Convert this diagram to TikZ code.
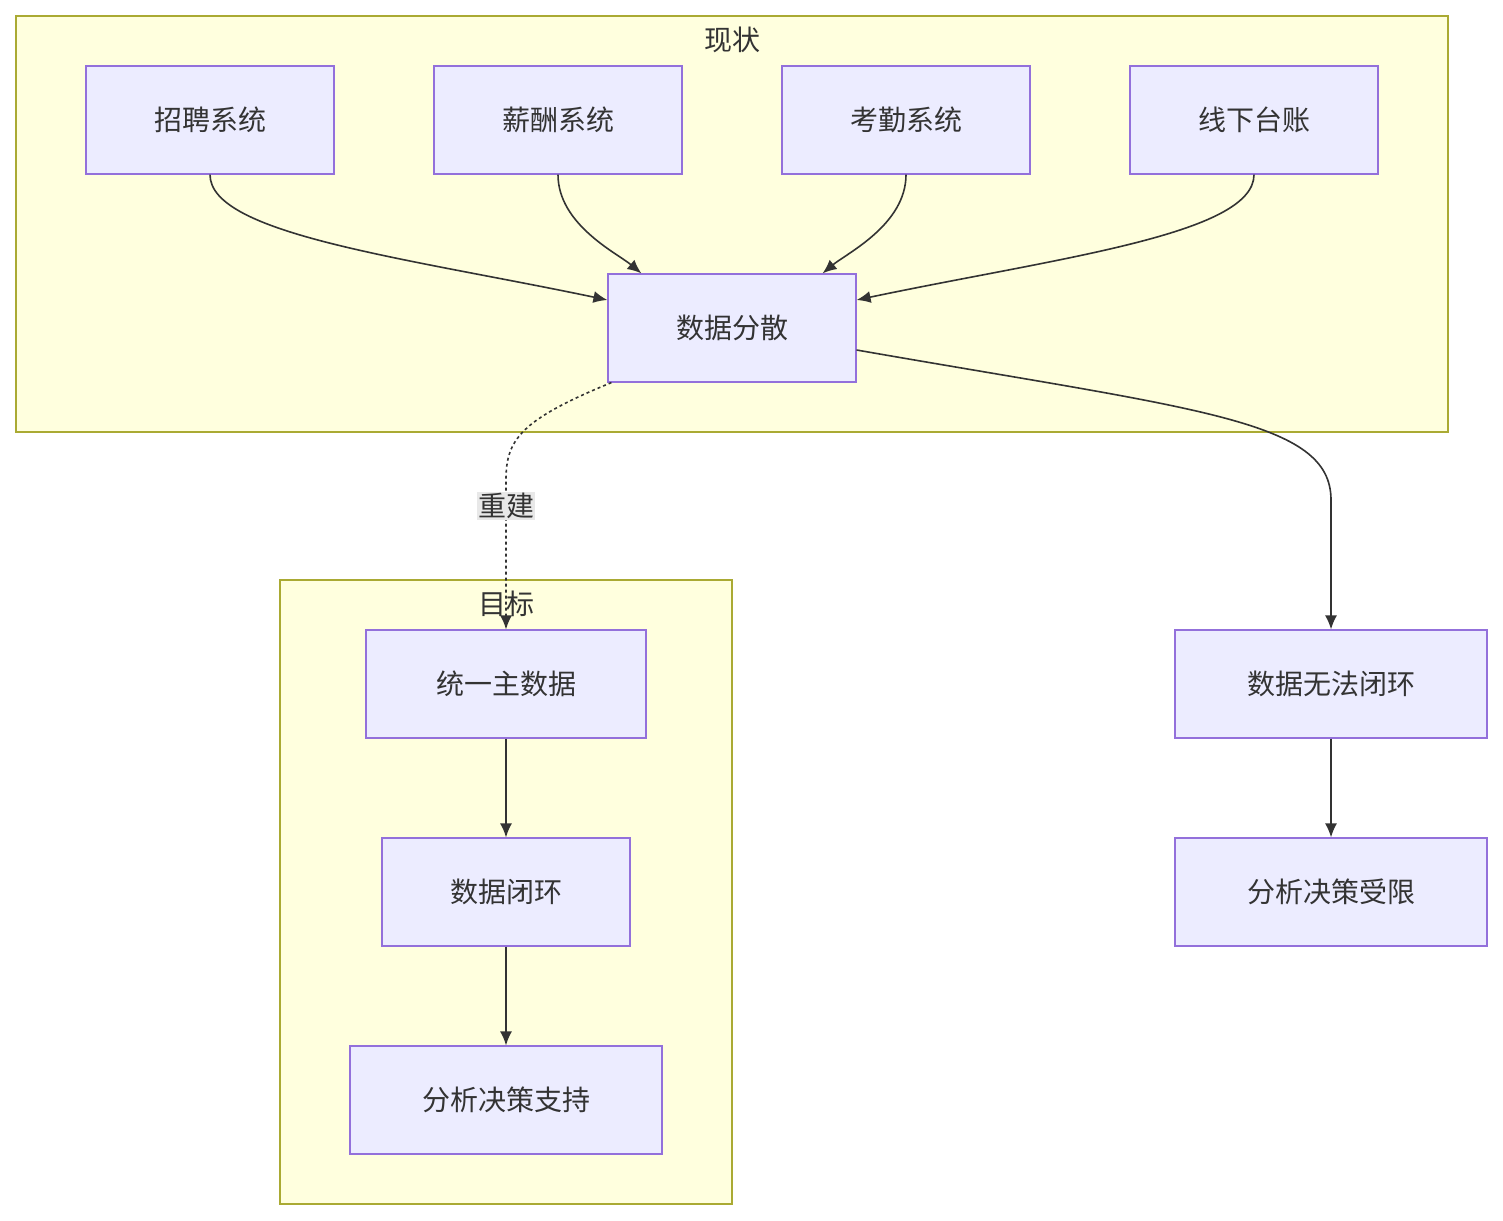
\documentclass[tikz,border=0pt]{standalone}
\usepackage{fontspec}
\setmainfont{Noto Sans CJK SC}
\usetikzlibrary{calc,arrows.meta}
\definecolor{nodefill}{HTML}{ECECFF}
\definecolor{nodeline}{HTML}{9370DB}
\definecolor{clusterfill}{HTML}{FFFFDE}
\definecolor{clusterline}{HTML}{AAAA33}
\definecolor{edgecol}{HTML}{333333}
\definecolor{labelbg}{HTML}{E8E8E8}
\tikzset{
  box/.style={draw=nodeline, fill=nodefill, line width=1.2pt, minimum height=108pt,
    inner sep=0pt, font=\fontsize{28}{32}\selectfont, text=edgecol},
  cluster/.style={draw=clusterline, fill=clusterfill, line width=1.2pt},
  title/.style={font=\fontsize{28}{32}\selectfont, text=edgecol},
  flow/.style={draw=edgecol, line width=1.6pt, -{Latex[length=14pt,width=12pt]}},
}
\begin{document}
\begin{tikzpicture}[x=1pt,y=-1pt]
  \useasboundingbox (0,0) rectangle (1503,1220);
  % clusters
  \draw[cluster] (16,16) rectangle (1448,432);
  \node[title] (now) at (732,40) {现状};
  \draw[cluster] (280,580) rectangle (732,1204);
  \node[title] (goal) at (506,604) {目标};
  % current state
  \node[box, minimum width=248pt] (zp) at (210,120) {招聘系统};
  \node[box, minimum width=248pt] (xc) at (558,120) {薪酬系统};
  \node[box, minimum width=248pt] (kq) at (906,120) {考勤系统};
  \node[box, minimum width=248pt] (tz) at (1254,120) {线下台账};
  \node[box, minimum width=248pt] (fs) at (732,328) {数据分散};
  % target
  \node[box, minimum width=280pt] (zsj) at (506,684) {统一主数据};
  \node[box, minimum width=248pt] (bh) at (506,892) {数据闭环};
  \node[box, minimum width=312pt] (zc) at (506,1100) {分析决策支持};
  % outcome
  \node[box, minimum width=312pt] (wf) at (1331,684) {数据无法闭环};
  \node[box, minimum width=312pt] (sx) at (1331,892) {分析决策受限};
  % edges
  \draw[flow] (zp.south) .. controls +(0,60) and ($(fs.west)+(-200,-70)$) .. ($(fs.west)+(0,-28)$);
  \draw[flow] (xc.south) .. controls +(0,50) and ($(fs.north west)+(10,-20)$) .. ($(fs.north west)+(34,0)$);
  \draw[flow] (kq.south) .. controls +(0,50) and ($(fs.north east)+(-10,-20)$) .. ($(fs.north east)+(-34,0)$);
  \draw[flow] (tz.south) .. controls +(0,60) and ($(fs.east)+(200,-70)$) .. ($(fs.east)+(0,-28)$);
  \draw[flow] ($(fs.east)+(0,22)$) .. controls (1200,410) and (1331,420) .. (1331,500) -- (wf.north);
  \draw[flow, dashed] ($(fs.south west)+(4,0)$) .. controls (520,420) and (506,440) .. (506,480) -- (zsj.north);
  \node[title, fill=labelbg, inner sep=1pt] (rj) at (506,506) {重建};
  \draw[flow] (zsj) -- (bh);
  \draw[flow] (bh) -- (zc);
  \draw[flow] (wf) -- (sx);
\end{tikzpicture}
\end{document}
